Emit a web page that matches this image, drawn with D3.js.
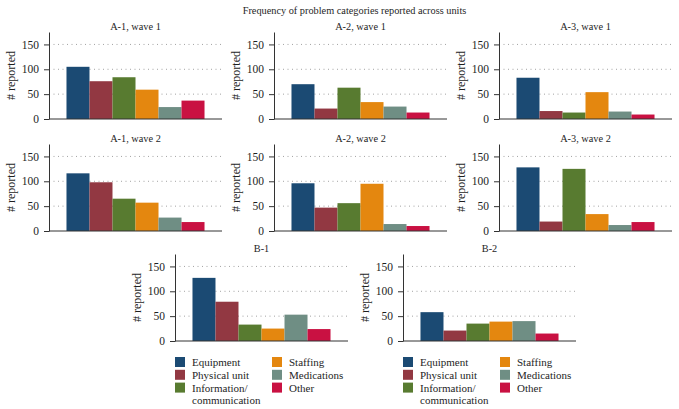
<!DOCTYPE html>
<html>
<head>
<meta charset="utf-8">
<script src="https://cdn.jsdelivr.net/npm/d3@7"></script>
<style>
  body { margin: 0; background: #fff; }
  svg { display: block; }
  svg text { font-family: "Liberation Serif", "DejaVu Serif", serif; fill: #1e1e1e; }
</style>
</head>
<body>
<svg id="chart" width="679" height="409"></svg>
<script>
// ---- data ----
const categories = ["Equipment", "Physical unit", "Information/communication", "Staffing", "Medications", "Other"];
const legendLabels = [["Equipment"], ["Physical unit"], ["Information/", "communication"], ["Staffing"], ["Medications"], ["Other"]];
const colors = ["#1b4a73", "#923842", "#587b30", "#e4870f", "#6f8e84", "#c91142"];
const panelTitles = ["A-1, wave 1", "A-2, wave 1", "A-3, wave 1", "A-1, wave 2", "A-2, wave 2", "A-3, wave 2", "B-1", "B-2"];
const valuesA1w1 = [105, 76, 84, 59, 24, 37];
const valuesA2w1 = [70, 21, 63, 34, 25, 13];
const valuesA3w1 = [83, 16, 13, 54, 15, 9];
const valuesA1w2 = [116, 98, 65, 57, 27, 18];
const valuesA2w2 = [96, 47, 56, 95, 14, 10];
const valuesA3w2 = [128, 19, 125, 34, 12, 18];
const valuesB1 = [127, 79, 33, 25, 53, 24];
const valuesB2 = [58, 21, 35, 39, 40, 15];
const yTicks = [0, 50, 100, 150];
const yMax = 175;
const mainTitle = "Frequency of problem categories reported across units";
const yLabel = "# reported";

const panelValues = [valuesA1w1, valuesA2w1, valuesA3w1, valuesA1w2, valuesA2w2, valuesA3w2, valuesB1, valuesB2];

// ---- layout ----
const FONT = "'Liberation Serif', 'DejaVu Serif', serif";
const svg = d3.select("#chart");
const pw = 173, ph = 87;
const layout = [
  {x: 49, y: 32}, {x: 274, y: 32}, {x: 499, y: 32},
  {x: 49, y: 144}, {x: 274, y: 144}, {x: 499, y: 144},
  {x: 175, y: 254}, {x: 403, y: 254}
];

svg.append("text")
  .attr("x", 354.5).attr("y", 14)
  .attr("text-anchor", "middle")
  .style("font-size", "10.3px").style("font-family", FONT)
  .text(mainTitle);

const x = d3.scaleBand().domain(categories).range([0, pw]).paddingInner(0).paddingOuter(0.76);
const y = d3.scaleLinear().domain([0, yMax]).range([ph, 0]);

panelValues.forEach((vals, i) => {
  const g = svg.append("g").attr("transform", `translate(${layout[i].x},${layout[i].y})`);

  // grid
  g.selectAll("line.grid").data(yTicks.filter(t => t > 0)).join("line")
    .attr("class", "grid")
    .attr("x1", 0).attr("x2", pw)
    .attr("y1", d => y(d)).attr("y2", d => y(d))
    .attr("stroke", "#8a8a8a").attr("stroke-width", 0.8)
    .attr("stroke-dasharray", "1,3.5");

  // bars
  g.selectAll("rect.bar").data(vals).join("rect")
    .attr("class", "bar")
    .attr("x", (d, j) => x(categories[j]))
    .attr("y", d => y(d))
    .attr("width", x.bandwidth())
    .attr("height", d => y(0) - y(d))
    .attr("fill", (d, j) => colors[j]);

  // y axis
  const ax = g.append("g").call(d3.axisLeft(y).tickValues(yTicks).tickSize(5).tickPadding(5).tickSizeOuter(0));
  ax.attr("font-family", FONT).attr("font-size", 11.5);
  ax.select(".domain").attr("stroke", "#333");
  ax.selectAll(".tick line").attr("stroke", "#333");
  ax.selectAll(".tick text").style("font-size", "11.5px").style("font-family", FONT).attr("fill", "#1e1e1e");

  // x baseline
  g.append("line").attr("x1", 0).attr("x2", pw).attr("y1", y(0)).attr("y2", y(0))
    .attr("stroke", "#333").attr("stroke-width", 1);

  // title
  g.append("text").attr("x", pw / 2).attr("y", -2)
    .attr("text-anchor", "middle").style("font-size", "10.3px").style("font-family", FONT)
    .text(panelTitles[i]);

  // y label
  g.append("text")
    .attr("transform", `translate(-34,${ph / 2}) rotate(-90)`)
    .attr("text-anchor", "middle").style("font-size", "12px").style("font-family", FONT)
    .text(yLabel);
});

// legends
const legendPos = [{x: 175, y: 357}, {x: 403, y: 357}];
legendPos.forEach(p => {
  const lg = svg.append("g").attr("transform", `translate(${p.x},${p.y})`);
  categories.forEach((c, j) => {
    const col = Math.floor(j / 3), row = j % 3;
    const gx = col * 97, gy = row * 12.8;
    lg.append("rect").attr("x", gx).attr("y", gy).attr("width", 10).attr("height", 10).attr("fill", colors[j]);
    const t = lg.append("text").attr("x", gx + 17).attr("y", gy + 9)
      .style("font-size", "11px").style("font-family", FONT);
    legendLabels[j].forEach((line, k) => {
      t.append("tspan").attr("x", gx + 17).attr("dy", k === 0 ? 0 : 12.8).text(line);
    });
  });
});
</script>
</body>
</html>
